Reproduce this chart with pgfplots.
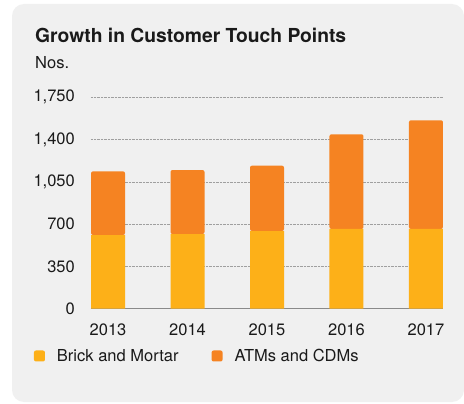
\documentclass[border=0pt]{standalone}
\usepackage{fontspec}
\setmainfont{TeX Gyre Heros}
\usepackage{pgfplots}
\pgfplotsset{compat=1.18}
\definecolor{bgpanel}{HTML}{F0F0F0}
\definecolor{brick}{HTML}{FDB018}
\definecolor{atm}{HTML}{F58322}
\definecolor{axisgray}{HTML}{8A8A8A}
\definecolor{txt}{HTML}{1A1A1A}
\begin{document}
\begin{tikzpicture}
\useasboundingbox (0pt,0pt) rectangle (464pt,-404pt);
\fill[white] (0pt,0pt) rectangle (464pt,-404pt);
\fill[bgpanel, rounded corners=12pt] (12pt,-4pt) rectangle (464pt,-402pt);
\node[anchor=base west, inner sep=0pt, font=\fontsize{19.3}{23}\selectfont\bfseries, text=txt] at (35pt,-43pt) {Growth in Customer Touch Points};
\node[anchor=base west, inner sep=0pt, font=\fontsize{16.5}{19}\selectfont, text=txt] at (35pt,-68.5pt) {Nos.};
\begin{axis}[
  at={(91pt,-308.7pt)}, anchor=south west,
  scale only axis, width=352pt, height=211.4pt,
  ybar stacked, bar width=34pt,
  xmin=-0.2144, xmax=4.2144, ymin=0, ymax=1750,
  xtick=data, xticklabels={2013,2014,2015,2016,2017},
  ytick={0,350,700,1050,1400,1750},
  /pgf/number format/assume math mode=true,
  /pgf/number format/1000 sep={,},
  yticklabel style={anchor=east, inner sep=0pt, xshift=-16pt, font=\fontsize{16.5}{19}\selectfont, text=txt},
  xticklabel style={anchor=north, inner sep=0pt, yshift=-14.6pt, font=\fontsize{16.5}{19}\selectfont, text=txt},
  major tick length=0pt,
  axis x line*=bottom, axis y line*=left,
  x axis line style={draw=axisgray, line width=1.5pt, -},
  y axis line style={draw=none},
  ymajorgrids, major grid style={gray!75, line width=0.5pt, dash pattern=on 0.6pt off 0.8pt},
  legend columns=2,
  legend cell align=left,
  legend style={at={(-0.162,-0.2237)}, anchor=west, draw=none, fill=none, inner sep=0pt, outer sep=0pt,
    font=\fontsize{16.5}{19}\selectfont, text=txt,
    nodes={inner sep=0pt},
    /tikz/every odd column/.append style={column sep=12pt},
    /tikz/every even column/.append style={column sep=33pt}},
  legend image code/.code={\fill[#1, draw=none, rounded corners=2pt] (0pt,-5.5pt) rectangle (11pt,5.5pt);},
]
\addplot[fill=brick, draw=none] coordinates {(0,610) (1,618) (2,643) (3,660) (4,660)};
\addlegendentry{Brick and Mortar}
\addplot[fill=atm, draw=none, rounded corners=2pt] coordinates {(0,527) (1,530) (2,541) (3,784) (4,900)};
\addlegendentry{ATMs and CDMs}
\end{axis}
\end{tikzpicture}
\end{document}
